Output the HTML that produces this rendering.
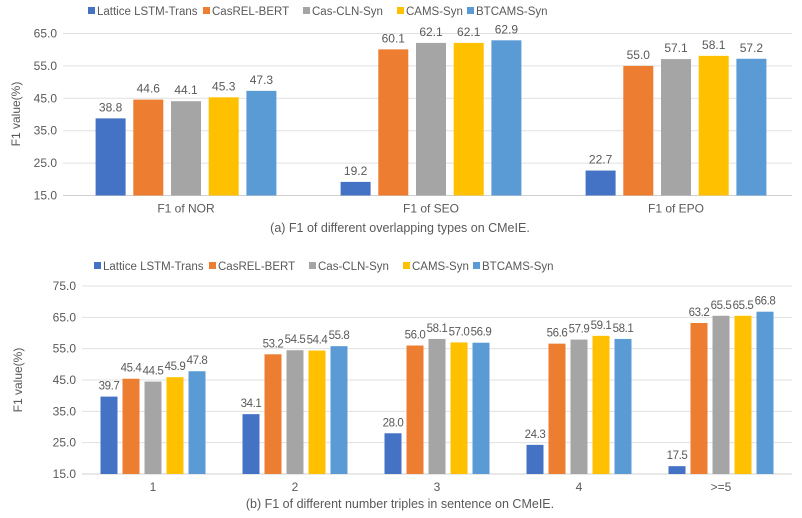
<!DOCTYPE html>
<html><head><meta charset="utf-8"><style>
body{margin:0;background:#fff;}
svg text{font-family:"Liberation Sans","Noto Sans CJK SC",sans-serif;fill:#595959;}
</style></head><body>
<svg id="svg" width="802" height="513" xmlns="http://www.w3.org/2000/svg"></svg>
<script>
const seriesNames = ["Lattice LSTM-Trans","CasREL-BERT","Cas-CLN-Syn","CAMS-Syn","BTCAMS-Syn"];
const colors = ["#4472C4","#ED7D31","#A5A5A5","#FFC000","#5B9BD5"];
const catsA = ["F1 of NOR","F1 of SEO","F1 of EPO"];
const valsA = [[38.8,19.2,22.7],[44.6,60.1,55.0],[44.1,62.1,57.1],[45.3,62.1,58.1],[47.3,62.9,57.2]];
const ticksA = [15,25,35,45,55,65];
const catsB = ["1","2","3","4",">=5"];
const valsB = [[39.7,34.1,28.0,24.3,17.5],[45.4,53.2,56.0,56.6,63.2],[44.5,54.5,58.1,57.9,65.5],[45.9,54.4,57.0,59.1,65.5],[47.8,55.8,56.9,58.1,66.8]];
const ticksB = [15,25,35,45,55,65,75];
const NS="http://www.w3.org/2000/svg";
const svg=document.getElementById('svg');
function mk(tag,attrs,parent){const e=document.createElementNS(NS,tag);for(const k in attrs)e.setAttribute(k,attrs[k]);(parent||svg).appendChild(e);return e;}
function draw(cfg){
  const g=mk('g',{});
  
  
  const y=v=>cfg.y0-(v-cfg.tmin)/(cfg.tmax-cfg.tmin)*(cfg.y0-cfg.y1);
  cfg.ticks.forEach(t=>{
    const l=mk('line',{x1:cfg.gx0,x2:cfg.gx1,y1:y(t),y2:y(t),stroke:t===cfg.tmin?'#D0D0D0':'#E0E0E0','stroke-width':1},g);
    
    
    const tx=mk('text',{x:cfg.gx0-6,y:y(t)+4,'text-anchor':'end','font-size':12},g);
    tx.textContent=t.toFixed(1);
    
    
  });
  const cw=cfg.cw;
  cfg.cats.forEach((c,i)=>{
    const cx=cfg.left+cw*(i+0.5);
    const tx=mk('text',{x:cx,y:cfg.y0+cfg.xlOff,'text-anchor':'middle','font-size':12},g);
    tx.textContent=c;
    
    
    const span=cfg.step*4+cfg.bw;
    cfg.vals.forEach((sv,s)=>{
      const v=sv[i];
      const bx=cx-span/2+s*cfg.step;
      const r=mk('rect',{x:bx,y:y(v),width:cfg.bw,height:cfg.y0-y(v),fill:colors[s]},g);
      
      
      const lt=mk('text',{x:bx+cfg.bw/2,y:y(v)-7,'text-anchor':'middle','font-size':cfg.vfs,'letter-spacing':cfg.vls},g);
      lt.textContent=v.toFixed(1);
      
      
    });
  });
  let lx=cfg.legX;
  seriesNames.forEach((s,k)=>{
    const r=mk('rect',{x:lx,y:cfg.legY-4,width:7,height:7,fill:colors[k]},g);
    
    
    const t=mk('text',{x:lx+9,y:cfg.legY+4,'font-size':11.5},g);
    t.textContent=s;
    
    
    lx+=cfg.legGaps[k];
  });
  const yt=mk('text',{x:0,y:0,'text-anchor':'middle','font-size':12,transform:`translate(${cfg.ytX},${cfg.ytY}) rotate(-90)`},g);
  yt.textContent='F1 value(%)';
  
  
  const cap=mk('text',{x:cfg.capX,y:cfg.capY,'text-anchor':'middle','font-size':12.5},g);
  cap.textContent=cfg.caption;
  
  
}
draw({name:'chart-a',cats:catsA,vals:valsA,ticks:ticksA,tmin:15,tmax:65,y0:195.5,y1:33.5,gx0:63,gx1:792,left:63.5,cw:245,bw:30,step:37.7,vfs:12,vls:0,xlOff:17,
  legX:88,legY:11,legGaps:[115,100,94,70],ytX:20,ytY:114,capX:400,capY:232,caption:'(a) F1 of different overlapping types on CMeIE.'});
draw({name:'chart-b',cats:catsB,vals:valsB,ticks:ticksB,tmin:15,tmax:75,y0:474,y1:286,gx0:82,gx1:792,left:82,cw:142,bw:17,step:22,vfs:11.5,vls:-0.4,xlOff:17,
  legX:94,legY:266,legGaps:[115,100,94,70],ytX:22,ytY:380,capX:400,capY:508,caption:'(b) F1 of different number triples in sentence on CMeIE.'});
</script>
</body></html>
